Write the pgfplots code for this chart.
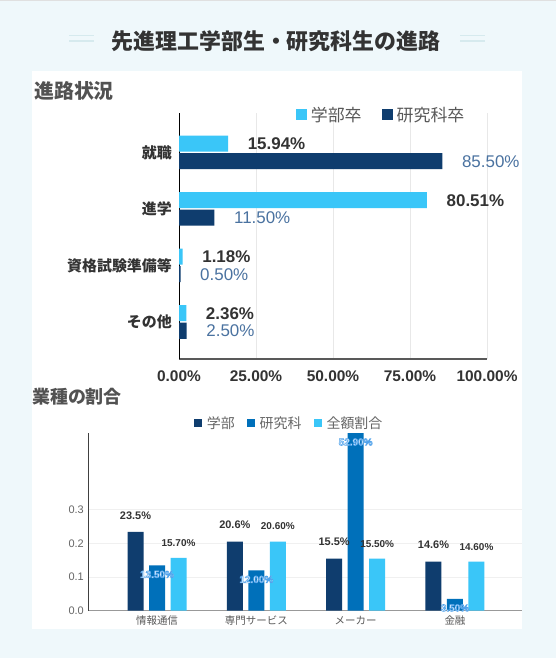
\documentclass[border=0pt]{standalone}
\usepackage{pgfplots}
\pgfplotsset{compat=1.18}
\usepackage{fontspec}
\setmainfont{Liberation Sans}
\newfontfamily\jp{Noto Sans CJK JP}
\newcommand\halo[1]{\special{pdf:literal direct 2 Tr 0.55 w 0.32 0.64 0.92 RG}#1\special{pdf:literal direct 0 Tr}}
\definecolor{bg}{RGB}{239,248,251}
\definecolor{cyanbar}{RGB}{58,198,248}
\definecolor{navy}{RGB}{15,61,110}
\definecolor{midblue}{RGB}{0,112,186}
\definecolor{txt}{RGB}{51,51,51}
\definecolor{lbl}{RGB}{74,114,160}
\definecolor{gridc}{RGB}{232,232,232}
\definecolor{deco}{RGB}{214,234,238}
\pgfplotsset{
  sqA/.style={legend image code/.code={\fill[##1] (0bp,-5.5bp) rectangle (11bp,5.5bp); \path (15bp,0bp);}},
  sqB/.style={legend image code/.code={\fill[##1] (0bp,-4bp) rectangle (8bp,4bp); \path (13bp,0bp);}},
}
\begin{document}
\begin{tikzpicture}[x=1bp,y=1bp]
\useasboundingbox (0,0) rectangle (556,-658);
\fill[bg] (0,0) rectangle (556,-658);
\fill[black!12] (0,0) rectangle (556,-1.5);
\fill[white] (32,-71) rectangle (522,-629);
\draw[deco, line width=1.6bp] (69,-35.5) -- (94,-35.5) (69,-41) -- (94,-41) (460,-35.5) -- (485,-35.5) (460,-41) -- (485,-41);
\node[inner sep=0pt, font=\jp\bfseries\fontsize{22}{24}\selectfont, text=txt] at (276,-41) {先進理工学部生・研究科生の進路};
\node[inner sep=0pt, anchor=west, font=\jp\bfseries\fontsize{20}{22}\selectfont, text=txt!85] at (34,-91) {進路状況};
\node[inner sep=0pt, anchor=west, font=\jp\bfseries\fontsize{18}{20}\selectfont, text=txt!85] at (32,-397) {業種の割合};

% ---------- top chart ----------
\begin{axis}[
  at={(179bp,-359bp)}, anchor=south west,
  scale only axis, width=308bp, height=246bp,
  xbar, bar width=16bp,
  xmin=0, xmax=100, ymin=-0.655, ymax=3.699,
  clip=false,
  /pgf/number format/assume math mode=true,
  axis x line*=bottom, axis y line*=left,
  x axis line style={-, draw=black!65, line width=1.3bp},
  y axis line style={-, draw=black, line width=1bp},
  xmajorgrids, grid style={draw=gridc, line width=0.8bp},
  major tick length=0,
  xtick={0,25,50,75,100},
  xticklabels={0.00\%,25.00\%,50.00\%,75.00\%,100.00\%},
  xticklabel style={font=\bfseries\fontsize{15.5}{17}\selectfont, text=txt, inner sep=0pt, yshift=-12bp},
  ytick={0,1,2,3},
  yticklabels={その他,資格試験準備等,進学,就職},
  yticklabel style={font=\jp\bfseries\fontsize{15}{17}\selectfont, text=txt, inner sep=0pt, xshift=-7bp},
  legend columns=-1,
  legend style={at={(0.653,0.992)}, anchor=center, draw=none, fill=none, inner sep=0pt,
    font=\jp\fontsize{17}{19}\selectfont, text=black!65,
    nodes={inner sep=0pt},
    /tikz/every even column/.append style={column sep=20bp}},
]
\addplot[sqA, fill=cyanbar, draw=none, bar shift=8.75bp,
  nodes near coords={\pgfmathprintnumber[fixed,fixed zerofill,precision=2]{\pgfplotspointmeta}\%},
  every node near coord/.append style={anchor=west, inner sep=0pt, xshift=19.5bp,
    font=\bfseries\fontsize{17}{19}\selectfont, text=txt}]
  coordinates {(15.94,3) (80.51,2) (1.18,1) (2.36,0)};
\addplot[sqA, fill=navy, draw=none, bar shift=-8.75bp,
  nodes near coords={\pgfmathprintnumber[fixed,fixed zerofill,precision=2]{\pgfplotspointmeta}\%},
  every node near coord/.append style={anchor=west, inner sep=0pt, xshift=19.5bp,
    font=\fontsize{17}{19}\selectfont, text=lbl}]
  coordinates {(85.50,3) (11.50,2) (0.50,1) (2.50,0)};
\legend{学部卒,研究科卒}
\end{axis}

% ---------- bottom chart ----------
\begin{axis}[
  at={(88bp,-610.7bp)}, anchor=south west,
  scale only axis, width=434bp, height=177.7bp,
  ybar, bar width=16bp,
  xmin=-0.695, xmax=3.675, ymin=0, ymax=0.529,
  clip=false,
  /pgf/number format/assume math mode=true,
  axis x line*=bottom, axis y line*=left,
  x axis line style={-, draw=black!40, line width=1.4bp},
  y axis line style={-, draw=black!75, line width=1bp},
  ymajorgrids, grid style={draw=black!6, line width=1bp},
  major tick length=0,
  ytick={0,0.1,0.2,0.3},
  yticklabels={0.0,0.1,0.2,0.3},
  yticklabel style={font=\fontsize{11}{13}\selectfont, text=black!60, inner sep=0pt, xshift=-4bp},
  xtick={0,1,2,3},
  xticklabels={情報通信,専門サービス,メーカー,金融},
  xticklabel style={font=\jp\fontsize{10.5}{12}\selectfont, text=black!65, inner sep=0pt, yshift=-5bp},
  point meta=explicit,
  legend columns=-1,
  legend style={at={(0.461,1.056)}, anchor=center, draw=none, fill=none, inner sep=0pt,
    font=\jp\fontsize{14}{16}\selectfont, text=black!60,
    nodes={inner sep=0pt},
    /tikz/every even column/.append style={column sep=12bp}},
]
\addplot[sqB, fill=navy, draw=none, bar shift=-21.5bp,
  nodes near coords={\pgfmathprintnumber[fixed,fixed zerofill,precision=1]{\pgfplotspointmeta}\%},
  every node near coord/.append style={anchor=center, inner sep=0pt, yshift=16.5bp,
    font=\bfseries\fontsize{11}{13}\selectfont, text=txt}]
  coordinates {(0,0.235) [23.5] (1,0.206) [20.6] (2,0.155) [15.5] (3,0.146) [14.6]};
\addplot[sqB, fill=midblue, draw=none, bar shift=0bp,
  nodes near coords={\halo{\pgfmathprintnumber[fixed,fixed zerofill,precision=2]{\pgfplotspointmeta}\%}},
  every node near coord/.append style={anchor=center, inner sep=0pt, yshift=-9bp,
    font=\bfseries\fontsize{10}{11}\selectfont, text=white}]
  coordinates {(0,0.135) [13.50] (1,0.120) [12.00] (2,0.529) [52.90] (3,0.035) [3.50]};
\addplot[sqB, fill=cyanbar, draw=none, bar shift=21.5bp,
  nodes near coords={\pgfmathprintnumber[fixed,fixed zerofill,precision=2]{\pgfplotspointmeta}\%},
  every node near coord/.append style={anchor=center, inner sep=0pt, yshift=15bp,
    font=\bfseries\fontsize{10}{12}\selectfont, text=txt}]
  coordinates {(0,0.157) [15.70] (1,0.206) [20.60] (2,0.155) [15.50] (3,0.146) [14.60]};
\legend{学部,研究科,全額割合}
\end{axis}
\end{tikzpicture}
\end{document}
